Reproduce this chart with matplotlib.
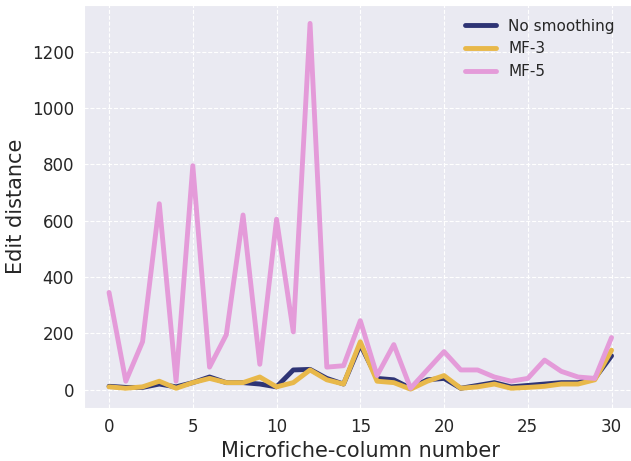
import matplotlib
matplotlib.use("Agg")
import matplotlib.pyplot as plt
import seaborn as sns

sns.set_style("darkgrid", {"grid.linestyle": "--"})

# column index and edit distances per smoothing setting
columns = list(range(31))
noSmoothing = [12, 8, 8, 20, 10, 25, 45, 25, 25, 20, 10, 70, 72, 40, 20, 160,
               40, 35, 5, 35, 40, 5, 15, 25, 10, 15, 20, 25, 25, 40, 120]
mf3 = [10, 5, 10, 30, 5, 25, 40, 25, 25, 45, 10, 25, 70, 35, 20, 170,
       30, 25, 2, 30, 50, 5, 10, 20, 5, 8, 12, 20, 20, 35, 140]
mf5 = [345, 30, 170, 660, 30, 795, 80, 195, 620, 90, 605, 205, 1300, 80, 85, 245,
       50, 160, 5, 70, 135, 70, 70, 45, 30, 40, 105, 65, 45, 40, 185]
labels = ["No smoothing", "MF-3", "MF-5"]

fig = plt.figure(figsize=(6.31, 4.61), dpi=100)
ax = fig.add_axes([0.133, 0.115, 0.876, 0.874])

ax.plot(columns, noSmoothing, color="#2e3475", linewidth=3.5, label=labels[0])
ax.plot(columns, mf3, color="#e8b84a", linewidth=3.5, label=labels[1])
ax.plot(columns, mf5, color="#e49bd9", linewidth=3.5, label=labels[2])

ax.set_xlim(-1.5, 31.5)
ax.set_ylim(-65, 1365)
ax.set_xticks([0, 5, 10, 15, 20, 25, 30])
ax.set_yticks([0, 200, 400, 600, 800, 1000, 1200])
ax.tick_params(labelsize=12)
ax.set_xlabel("Microfiche-column number", fontsize=15)
ax.set_ylabel("Edit distance", fontsize=15)
ax.legend(loc="upper right", frameon=False, fontsize=11, bbox_to_anchor=(0.985, 1.0))

fig.savefig("out.png", dpi=100)
